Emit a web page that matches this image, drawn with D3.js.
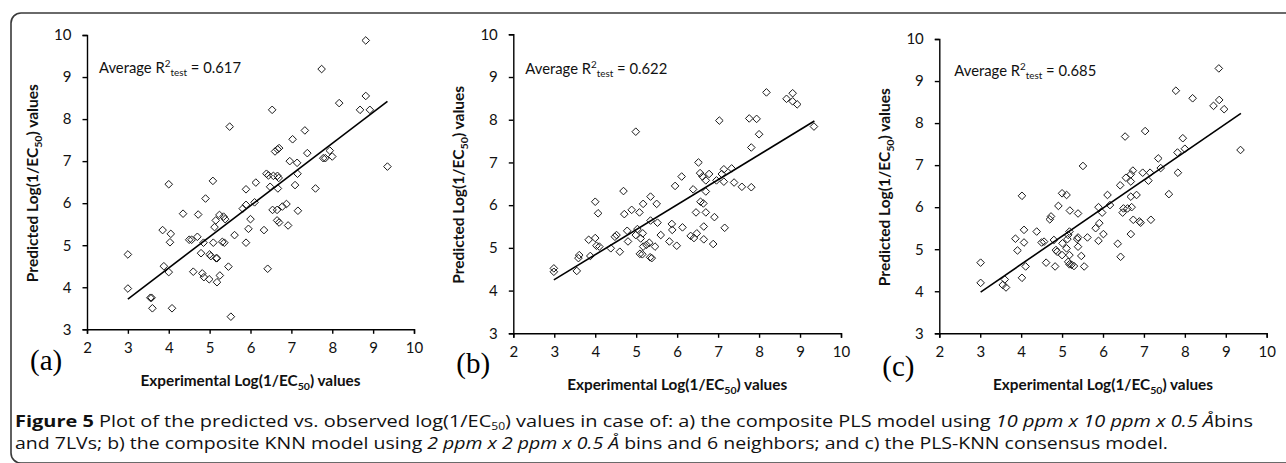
<!DOCTYPE html>
<html>
<head>
<meta charset="utf-8">
<script src="https://cdn.jsdelivr.net/npm/d3@7"></script>
<style>
  html, body { margin: 0; padding: 0; background: #fff; }
  svg { display: block; }
</style>
</head>
<body>
<svg id="fig" width="1286" height="463"></svg>
<script>
// values (experimental vs predicted log(1/EC50))

const xTicks = [2, 3, 4, 5, 6, 7, 8, 9, 10];
const yTicks = [3, 4, 5, 6, 7, 8, 9, 10];
const r2Values = ["0.617", "0.622", "0.685"];
const panelLetters = ["(a)", "(b)", "(c)"];

// (a) composite PLS
const aExp = [3.0, 3.0, 3.55, 3.58, 3.6, 4.08, 3.85, 3.88, 4.0, 4.05, 4.03, 4.0, 4.35, 4.5, 4.56,
  4.6, 4.72, 4.7, 4.79, 4.82, 4.86, 4.9, 4.85, 5.0, 5.03, 4.99, 5.08, 5.09, 5.12, 5.15,
  5.16, 5.18, 5.18, 5.25, 5.24, 5.34, 5.38, 5.31, 5.36, 5.46, 5.49, 5.52, 5.61, 5.81,
  5.89, 5.89, 5.89, 5.95, 6.0, 6.1, 6.13, 6.33, 6.39, 6.44, 6.42, 6.48, 6.53, 6.56,
  6.54, 6.6, 6.66, 6.7, 6.66, 6.69, 6.67, 6.65, 6.65, 6.7, 6.78, 6.88, 6.92, 6.96,
  7.03, 7.09, 7.14, 7.15, 7.16, 7.33, 7.39, 7.59, 7.74, 7.78, 7.83, 7.94, 8.0, 8.17,
  8.68, 8.82, 8.92, 8.82, 9.35];
const aPred = [4.78, 3.97, 3.75, 3.75, 3.5, 3.5, 5.36, 4.5, 6.45, 5.27, 5.07, 4.36, 5.75, 5.13, 5.13,
  4.37, 5.73, 5.2, 4.81, 4.33, 4.24, 6.11, 5.06, 4.78, 4.74, 4.19, 6.53, 5.06, 5.43, 5.59,
  4.69, 4.69, 4.12, 4.28, 5.72, 5.68, 5.62, 5.08, 5.06, 4.49, 7.82, 3.3, 5.24, 5.87,
  5.96, 6.33, 5.06, 5.39, 5.62, 6.02, 6.49, 5.36, 6.7, 6.66, 4.44, 6.39, 8.22, 6.65,
  5.84, 7.23, 7.28, 7.31, 6.65, 6.6, 6.35, 5.84, 5.59, 5.54, 5.92, 5.98, 5.47, 7.0,
  7.52, 6.43, 6.96, 6.7, 5.82, 7.73, 7.19, 6.35, 9.19, 7.07, 7.07, 7.25, 7.11, 8.38,
  8.22, 8.55, 8.22, 9.87, 6.87];
const aFit = [[3.0, 3.72], [9.35, 8.42]];

// (b) composite KNN
const bExp = [2.99, 2.99, 3.55, 3.59, 3.61, 3.88, 3.84, 4.0, 4.0, 4.07, 4.03, 4.1, 4.38, 4.48, 4.52,
  4.6, 4.69, 4.71, 4.78, 4.8, 4.89, 4.99, 4.99, 5.03, 5.08, 5.09, 5.11, 5.16, 5.17,
  5.17, 5.15, 5.25, 5.32, 5.34, 5.38, 5.35, 5.35, 5.46, 5.5, 5.52, 5.6, 5.81, 5.87,
  5.88, 5.95, 5.99, 6.11, 6.13, 6.33, 6.39, 6.41, 6.46, 6.48, 6.52, 6.56, 6.57, 6.64,
  6.62, 6.65, 6.65, 6.7, 6.7, 6.7, 6.78, 6.88, 6.91, 6.96, 7.03, 7.09, 7.14, 7.14,
  7.16, 7.33, 7.39, 7.58, 7.76, 7.81, 7.81, 7.94, 8.0, 8.18, 8.67, 8.82, 8.82, 8.93, 9.34];
const bPred = [4.52, 4.44, 4.46, 4.76, 4.83, 4.81, 5.19, 6.08, 5.23, 5.81, 5.05, 5.03, 4.99, 5.26, 5.3,
  4.91, 6.33, 5.79, 5.4, 5.15, 5.89, 7.72, 5.3, 5.44, 5.83, 4.86, 5.22, 5.34, 6.03,
  5.03, 4.85, 5.07, 5.12, 4.78, 4.76, 6.2, 5.64, 5.03, 6.03, 5.59, 5.3, 5.15, 5.56,
  5.42, 6.45, 5.05, 6.67, 5.48, 5.28, 6.37, 5.23, 5.83, 5.34, 7.0, 6.75, 6.08, 6.04,
  6.67, 5.5, 5.2, 6.58, 6.32, 5.83, 6.73, 5.09, 5.72, 6.58, 7.98, 6.73, 6.84, 6.55,
  5.47, 6.86, 6.53, 6.43, 8.03, 7.35, 6.42, 8.02, 7.66, 8.64, 8.49, 8.62, 8.43, 8.36, 7.84];
const bFit = [[2.99, 4.25], [9.35, 7.97]];

// (c) PLS-KNN consensus
const cExp = [3.01, 3.01, 3.55, 3.6, 3.63, 3.86, 3.91, 4.02, 4.02, 4.07, 4.07, 4.11, 4.38, 4.5, 4.56,
  4.61, 4.7, 4.73, 4.8, 4.83, 4.85, 4.88, 4.91, 5.0, 5.0, 5.01, 5.11, 5.11, 5.15, 5.18,
  5.13, 5.18, 5.19, 5.15, 5.18, 5.23, 5.29, 5.37, 5.39, 5.39, 5.39, 5.47, 5.51, 5.54,
  5.62, 5.82, 5.89, 5.89, 5.91, 5.98, 6.01, 6.11, 6.17, 6.36, 6.42, 6.43, 6.48, 6.5,
  6.54, 6.56, 6.6, 6.68, 6.68, 6.68, 6.68, 6.7, 6.73, 6.74, 6.82, 6.89, 6.92, 6.97,
  7.03, 7.11, 7.15, 7.17, 7.35, 7.41, 7.61, 7.78, 7.82, 7.83, 7.95, 8.0, 8.19, 8.7,
  8.84, 8.83, 8.96, 9.36];
const cPred = [4.68, 4.2, 4.15, 4.28, 4.09, 5.25, 4.97, 6.27, 4.32, 5.46, 5.16, 4.59, 5.42, 5.16, 5.18,
  4.68, 5.71, 5.78, 5.22, 4.59, 4.98, 4.94, 6.03, 6.33, 4.86, 5.14, 6.29, 5.02, 5.34, 5.42,
  5.24, 4.86, 5.92, 4.7, 4.64, 4.63, 4.6, 5.24, 5.28, 5.06, 5.85, 4.84, 6.98, 4.59,
  5.28, 5.5, 6.0, 5.2, 5.62, 5.87, 5.36, 6.29, 6.05, 5.13, 6.52, 4.82, 5.87, 5.97,
  7.68, 6.7, 5.97, 6.78, 6.61, 6.25, 5.36, 6.0, 6.87, 5.7, 6.29, 5.66, 5.63, 6.82,
  7.81, 6.63, 6.82, 5.7, 7.16, 6.93, 6.31, 8.77, 7.3, 6.82, 7.64, 7.39, 8.59, 8.41,
  8.55, 9.3, 8.33, 7.36];
const cFit = [[3.01, 3.98], [9.37, 8.23]];

const svg = d3.select("#fig");
const axisFont = "Lato, 'Open Sans', sans-serif";

// frame round the figure and its caption
svg.append("rect")
  .attr("x", 11).attr("y", 13)
  .attr("width", 1300).attr("height", 450)
  .attr("rx", 10)
  .attr("fill", "none")
  .attr("stroke", "#3a3a3a")
  .attr("stroke-width", 1.6);

const panels = [
  {xs: aExp, ys: aPred, fit: aFit, left: 87, right: 414, top: 35, bottom: 329.3, noteY: 73, noteDx: 12, letterY: 370, titleY: 386},
  {xs: bExp, ys: bPred, fit: bFit, left: 513.3, right: 841, top: 34.3, bottom: 333.3, noteY: 74, noteDx: 12, letterY: 373, titleY: 390},
  {xs: cExp, ys: cPred, fit: cFit, left: 939.3, right: 1266.7, top: 39, bottom: 333.3, noteY: 76, noteDx: 15, letterY: 376, titleY: 390}
];

function fitWidth(text, w) {
  text.attr("textLength", w).attr("lengthAdjust", "spacingAndGlyphs");
}

panels.forEach((p, i) => {
  const x = d3.scaleLinear().domain([2, 10]).range([p.left, p.right]);
  const y = d3.scaleLinear().domain([3, 10]).range([p.bottom, p.top]);
  const g = svg.append("g");

  const xAxis = g.append("g")
    .attr("transform", `translate(0,${p.bottom})`)
    .call(d3.axisBottom(x).tickValues(xTicks).tickSize(4.5).tickPadding(8.5).tickFormat(d3.format("d")));
  const yAxis = g.append("g")
    .attr("transform", `translate(${p.left},0)`)
    .call(d3.axisLeft(y).tickValues(yTicks).tickSize(4.5).tickPadding(11).tickFormat(d3.format("d")));

  [xAxis, yAxis].forEach(ax => {
    ax.select(".domain").attr("stroke", "#000").attr("stroke-width", 1.4);
    ax.selectAll(".tick line").attr("stroke", "#000").attr("stroke-width", 1.4);
    ax.selectAll(".tick text")
      .attr("fill", "#111")
      .style("font-family", axisFont)
      .style("font-size", "15px");
  });

  // points
  g.append("g").selectAll("path")
    .data(d3.zip(p.xs, p.ys))
    .join("path")
    .attr("transform", d => `translate(${x(d[0])},${y(d[1])})`)
    .attr("d", "M0,-3.8L3.8,0L0,3.8L-3.8,0Z")
    .attr("fill", "none")
    .attr("stroke", "#1a1a1a")
    .attr("stroke-width", 1);

  // trend line
  g.append("path")
    .datum(p.fit)
    .attr("d", d3.line().x(d => x(d[0])).y(d => y(d[1])))
    .attr("fill", "none")
    .attr("stroke", "#000")
    .attr("stroke-width", 1.6);

  // annotation
  const note = g.append("text")
    .attr("x", p.left + p.noteDx).attr("y", p.noteY)
    .attr("fill", "#111")
    .style("font-family", axisFont)
    .style("font-size", "15px");
  note.append("tspan").text("Average R");
  note.append("tspan").attr("dy", -6).style("font-size", "10px").text("2");
  note.append("tspan").attr("dy", 9).style("font-size", "10px").text("test");
  note.append("tspan").attr("dy", -3).text(" = " + r2Values[i]);
  fitWidth(note, 142);

  // axis titles
  const xt = g.append("text")
    .attr("x", (p.left + p.right) / 2).attr("y", p.titleY)
    .attr("text-anchor", "middle")
    .attr("fill", "#111")
    .style("font-family", axisFont)
    .style("font-weight", "bold")
    .style("font-size", "14.5px");
  xt.append("tspan").text("Experimental Log(1/EC");
  xt.append("tspan").attr("dy", 4).style("font-size", "10px").text("50");
  xt.append("tspan").attr("dy", -4).text(") values");
  fitWidth(xt, 220);

  const yt = g.append("text")
    .attr("transform", `translate(${p.left - 49},${(p.top + p.bottom) / 2 + 1}) rotate(-90)`)
    .attr("text-anchor", "middle")
    .attr("fill", "#111")
    .style("font-family", axisFont)
    .style("font-weight", "bold")
    .style("font-size", "14.5px");
  yt.append("tspan").text("Predicted Log(1/EC");
  yt.append("tspan").attr("dy", 4).style("font-size", "10px").text("50");
  yt.append("tspan").attr("dy", -4).text(") values");
  fitWidth(yt, 198);

  // panel letter
  g.append("text")
    .attr("x", p.left - 57).attr("y", p.letterY)
    .attr("fill", "#000")
    .style("font-family", "'Liberation Serif', 'DejaVu Serif', serif")
    .style("font-size", "29px")
    .text(panelLetters[i]);
});

// caption
const capFont = "'Open Sans', 'Noto Sans', sans-serif";
const cap1 = svg.append("text")
  .attr("x", 15).attr("y", 427)
  .attr("fill", "#111")
  .style("font-family", capFont)
  .style("font-size", "16.5px");
cap1.append("tspan").style("font-weight", "bold").text("Figure 5");
cap1.append("tspan").text(" Plot of the predicted vs. observed log(1/EC");
cap1.append("tspan").attr("dy", 3).style("font-size", "10px").text("50");
cap1.append("tspan").attr("dy", -3).text(") values in case of: a) the composite PLS model using ");
cap1.append("tspan").style("font-style", "italic").text("10 ppm x 10 ppm x 0.5 Å");
cap1.append("tspan").text("bins");
fitWidth(cap1, 1238);

const cap2 = svg.append("text")
  .attr("x", 15).attr("y", 449)
  .attr("fill", "#111")
  .style("font-family", capFont)
  .style("font-size", "16.5px");
cap2.append("tspan").text("and 7LVs; b) the composite KNN model using ");
cap2.append("tspan").style("font-style", "italic").text("2 ppm x 2 ppm x 0.5 Å");
cap2.append("tspan").text(" bins and 6 neighbors; and c) the PLS-KNN consensus model.");
fitWidth(cap2, 1153);
</script>
</body>
</html>
